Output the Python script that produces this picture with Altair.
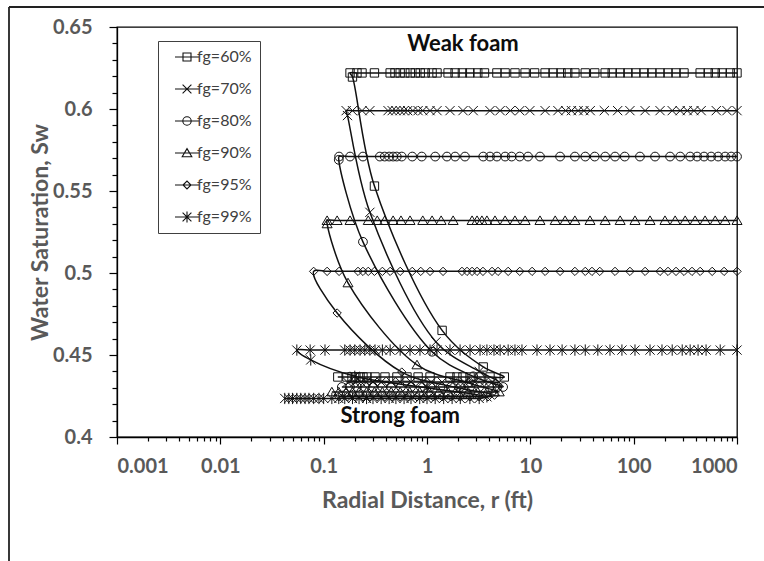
import altair as alt
import pandas as pd

SERIES = ["fg=60%", "fg=70%", "fg=80%", "fg=90%", "fg=95%", "fg=99%"]

# Weak-foam plateau level (Sw) of each series and the r of its markers
HIGH_SW = [0.622, 0.599, 0.571, 0.532, 0.501, 0.453]
high_r_60 = [0.18, 0.21, 0.235, 0.31, 0.44, 0.49, 0.55, 0.61, 0.69, 0.77, 0.86, 0.96, 1.12, 1.25, 1.6, 1.87,
             2.2, 2.6, 3.1, 3.6, 4.75, 5.7, 7.1, 8.9, 11, 13.9, 16.6, 19.8, 23, 27, 34, 42, 53, 62, 74, 88,
             105, 126, 150, 180, 215, 257, 307, 440, 527, 616, 720, 860, 1000]
high_r_70 = [0.165, 0.19, 0.235, 0.28, 0.42, 0.46, 0.5, 0.55, 0.6, 0.65, 0.73, 0.82, 0.91, 1.07, 1.25, 1.67,
             2.23, 2.8, 4.07, 5.1, 6.4, 7.9, 9.9, 13.9, 18.5, 22, 25, 29, 33, 38, 52, 70, 92, 129, 180, 236,
             282, 330, 383, 450, 630, 800, 1000]
high_r_80 = [0.141, 0.18, 0.24, 0.35, 0.39, 0.43, 0.47, 0.51, 0.57, 0.72, 0.89, 1.2, 1.56, 1.87, 2.33, 3.5,
             4.07, 4.75, 5.7, 6.6, 7.9, 9.5, 12.4, 19.4, 27, 34, 42, 53, 66, 82, 115, 161, 225, 282, 352, 411,
             480, 562, 657, 767, 878, 1000]
high_r_90 = [0.108, 0.135, 0.18, 0.27, 0.33, 0.39, 0.47, 0.56, 0.685, 0.91, 1.12, 1.37, 1.79, 2.73, 3.05, 3.4,
             3.8, 4.55, 5.7, 7.1, 8.9, 12.4, 17.4, 21.7, 27, 37.8, 53, 74, 103, 144, 201, 252, 315, 393, 491,
             615, 767, 1000]
high_r_95 = [0.08, 0.108, 0.141, 0.215, 0.24, 0.27, 0.31, 0.37, 0.44, 0.55, 0.72, 0.87, 1.07, 1.43, 2.18, 2.44,
             2.73, 3.05, 3.48, 4.26, 4.87, 6.1, 7.9, 10.4, 13.9, 19.4, 27, 34, 39.5, 47, 66, 92, 129, 180, 215,
             257, 307, 367, 440, 575, 750, 1000]
high_r_99 = [0.055, 0.074, 0.103, 0.16, 0.18, 0.2, 0.225, 0.25, 0.28, 0.314, 0.37, 0.44, 0.55, 0.685, 0.855,
             1.07, 1.25, 1.67, 2.09, 2.61, 3.26, 3.8, 4.45, 5.1, 6.1, 7.1, 8.3, 11.6, 15.5, 20.3, 27, 34, 45,
             59, 77, 103, 144, 188, 236, 295, 352, 420, 502, 688, 1000]

# Transition from weak to strong foam
curve_r_60 = [0.19, 0.31, 1.40, 3.5, 5.6]
curve_sw_60 = [0.6195, 0.553, 0.465, 0.4427, 0.4366]
curve_r_70 = [0.17, 0.28, 1.22, 3.2, 5.0]
curve_sw_70 = [0.596, 0.537, 0.458, 0.440, 0.4335]
curve_r_80 = [0.14, 0.24, 1.12, 2.8, 5.45]
curve_sw_80 = [0.569, 0.519, 0.452, 0.437, 0.4305]
curve_r_90 = [0.108, 0.172, 0.8, 2.5, 5.0]
curve_sw_90 = [0.530, 0.494, 0.444, 0.433, 0.4275]
curve_r_95 = [0.135, 0.57, 2.0, 4.5]
curve_sw_95 = [0.4756, 0.4396, 0.430, 0.4255]
curve_r_99 = [0.075, 0.2, 1.0, 3.8]
curve_sw_99 = [0.447, 0.437, 0.430, 0.4245]

# Strong-foam plateau level (Sw) and r of its markers
LOW_SW = [0.4366, 0.4335, 0.4305, 0.4275, 0.4245, 0.4235]
low_r_60 = [0.137, 0.168, 0.188, 0.205, 0.225, 0.24, 0.262, 0.314, 0.392, 0.512, 0.64, 0.82, 1.07, 1.67,
            1.95, 2.23, 2.61, 3.26, 4.07]
low_r_70 = [0.17, 0.2, 0.23, 0.26, 0.3, 0.36, 0.45, 0.55, 0.7, 0.9, 1.1, 1.4, 1.8, 2.3, 2.9, 3.6, 4.3]
low_r_80 = [0.15, 0.18, 0.21, 0.25, 0.3, 0.37, 0.45, 0.56, 0.7, 0.87, 1.08, 1.35, 1.7, 2.1, 2.6, 3.2, 4.0, 4.8]
low_r_90 = [0.12, 0.14, 0.165, 0.19, 0.22, 0.26, 0.31, 0.37, 0.45, 0.55, 0.68, 0.85, 1.05, 1.3, 1.6, 2.0,
            2.5, 3.1, 3.8, 4.5]
low_r_95 = [0.14, 0.17, 0.2, 0.24, 0.28, 0.33, 0.39, 0.46, 0.55, 0.66, 0.8, 0.95, 1.15, 1.4, 1.7, 2.1, 2.6,
            3.2, 3.9]
low_r_99 = [0.042, 0.046, 0.05, 0.055, 0.06, 0.066, 0.072, 0.08, 0.09, 0.1, 0.12, 0.14, 0.16, 0.19, 0.22,
            0.26, 0.3, 0.36, 0.43, 0.5, 0.6, 0.7, 0.85, 1.0, 1.2, 1.45, 1.75, 2.1, 2.6, 3.2]

HIGH_R = [high_r_60, high_r_70, high_r_80, high_r_90, high_r_95, high_r_99]
CURVE_R = [curve_r_60, curve_r_70, curve_r_80, curve_r_90, curve_r_95, curve_r_99]
CURVE_SW = [curve_sw_60, curve_sw_70, curve_sw_80, curve_sw_90, curve_sw_95, curve_sw_99]
LOW_R = [low_r_60, low_r_70, low_r_80, low_r_90, low_r_95, low_r_99]

X_TICKS = [0.001, 0.01, 0.1, 1, 10, 100, 1000]
X_MINOR = [0.002, 0.003, 0.004, 0.005, 0.006, 0.007, 0.008, 0.009,
           0.02, 0.03, 0.04, 0.05, 0.06, 0.07, 0.08, 0.09,
           0.2, 0.3, 0.4, 0.5, 0.6, 0.7, 0.8, 0.9,
           2, 3, 4, 5, 6, 7, 8, 9,
           20, 30, 40, 50, 60, 70, 80, 90,
           200, 300, 400, 500, 600, 700, 800, 900]
Y_TICKS = [0.4, 0.45, 0.5, 0.55, 0.6, 0.65]
Y_MINOR = [0.41, 0.42, 0.43, 0.44, 0.46, 0.47, 0.48, 0.49, 0.51, 0.52, 0.53, 0.54,
           0.56, 0.57, 0.58, 0.59, 0.61, 0.62, 0.63, 0.64]

ANN_TEXT = ["Weak foam", "Strong foam"]
ANN_R = [2.23, 0.55]
ANN_SW = [0.6396, 0.4128]

rows = []
for i, s in enumerate(SERIES):
    pts = [(r, HIGH_SW[i]) for r in reversed(HIGH_R[i])]
    pts += list(zip(CURVE_R[i], CURVE_SW[i]))
    pts += [(r, LOW_SW[i]) for r in reversed(LOW_R[i])]
    for k, (r, sw) in enumerate(pts):
        rows.append({"series": s, "r": r, "sw": sw, "idx": k})
df = pd.DataFrame(rows)

SHAPES = [
    "M-1,-1H1V1H-1Z",
    "M-1.1,-1.1L1.1,1.1M-1.1,1.1L1.1,-1.1",
    "M-1.05,0A1.05,1.05 0 1,1 1.05,0A1.05,1.05 0 1,1 -1.05,0Z",
    "M0,-1.1L1.2,0.95H-1.2Z",
    "M-1,0L0,-1L1,0L0,1Z",
    "M-1.1,-1.1L1.1,1.1M-1.1,1.1L1.1,-1.1M0,-1.35V1.35",
]
LEG_SHAPES = ["M-3,0H3" + p for p in SHAPES]

xs = alt.Scale(type="log", domain=[0.001, 1000], nice=False)
ys = alt.Scale(domain=[0.4, 0.65], nice=False, zero=False)

base = alt.Chart(df)

line = base.mark_line(interpolate="catmull-rom", color="#111111", strokeWidth=1.5).encode(
    x=alt.X("r:Q", scale=xs, axis=alt.Axis(orient="bottom", values=X_TICKS, format="~g", tickSize=7,
                                            labelPadding=12, title="Radial Distance, r (ft)",
                                            titleY=63, titleBaseline="middle")),
    y=alt.Y("sw:Q", scale=ys, axis=alt.Axis(orient="left", values=Y_TICKS, format="~g", tickSize=8,
                                             labelPadding=17, title="Water Saturation, Sw",
                                             titleX=-77, titleY=205, titleAngle=-90,
                                             titleBaseline="middle", titleAlign="center")),
    detail="series:N",
    order="idx:Q",
)

# one marker layer per series, each with its own marker shape
point_layers = [
    base.transform_filter(alt.datum.series == s).mark_point(
        size=70, strokeWidth=1, color="#111111", opacity=1, shape=p
    ).encode(x=alt.X("r:Q", axis=None), y=alt.Y("sw:Q", axis=None))
    for s, p in zip(SERIES, SHAPES)
]

# legend-only layer (no rows drawn) whose symbols carry the line through the marker
legend_layer = base.transform_filter("false").mark_point(
    size=64, strokeWidth=1.1, color="#111111", opacity=1
).encode(
    x=alt.X("r:Q", axis=None),
    y=alt.Y("sw:Q", axis=None),
    shape=alt.Shape("series:N", scale=alt.Scale(domain=SERIES, range=LEG_SHAPES),
                    legend=alt.Legend(orient="none", legendX=41, legendY=14, title=None, padding=8,
                                      symbolOffset=13, labelOffset=2, rowPadding=16,
                                      strokeColor="#404040", symbolSize=64, symbolStrokeWidth=1.1,
                                      symbolStrokeColor="#111111", symbolFillColor="transparent",
                                      labelFont="Lato", labelFontSize=16, labelColor="#404040")),
)

minor = base.mark_point(opacity=0).encode(
    x=alt.X("r:Q", axis=alt.Axis(orient="bottom", values=X_MINOR, labels=False, domain=False,
                                 tickSize=4, title=None)),
    y=alt.Y("sw:Q", axis=alt.Axis(orient="left", values=Y_MINOR, labels=False, domain=False,
                                  tickSize=5, title=None)),
)

ann = alt.Chart(pd.DataFrame({"t": ANN_TEXT, "r": ANN_R, "sw": ANN_SW})).mark_text(
    font="Lato", fontWeight="bold", fontSize=22, color="#0d0d0d", baseline="middle", align="center"
).encode(x=alt.X("r:Q", axis=None), y=alt.Y("sw:Q", axis=None), text="t:N")

one = pd.DataFrame({"k": [0]})
frame_left = alt.Chart(one).mark_rule(color="#222222", strokeWidth=1.8).encode(
    x=alt.value(-108), y=alt.value(-20), y2=alt.value(700))
frame_top = alt.Chart(one).mark_rule(color="#222222", strokeWidth=1.8).encode(
    x=alt.value(-108), x2=alt.value(800), y=alt.value(-20))

chart = alt.layer(line, *point_layers, legend_layer, minor, ann, frame_left, frame_top).resolve_axis(
    x="independent", y="independent"
).properties(
    width=620, height=410,
    autosize=alt.AutoSizeParams(type="none"),
    padding={"left": 117, "top": 27, "right": 27, "bottom": 124},
).configure_view(stroke="#000000", strokeWidth=1.3).configure_axis(
    grid=False, domainColor="#000000", domainWidth=1.3, tickColor="#000000", tickWidth=1.2,
    labelFont="Lato", labelFontWeight="bold", labelColor="#595959", labelFontSize=20,
    titleFont="Lato", titleFontWeight="bold", titleColor="#595959", titleFontSize=23,
)

chart.save("out.html", embed_options={"renderer": "svg", "actions": False})
